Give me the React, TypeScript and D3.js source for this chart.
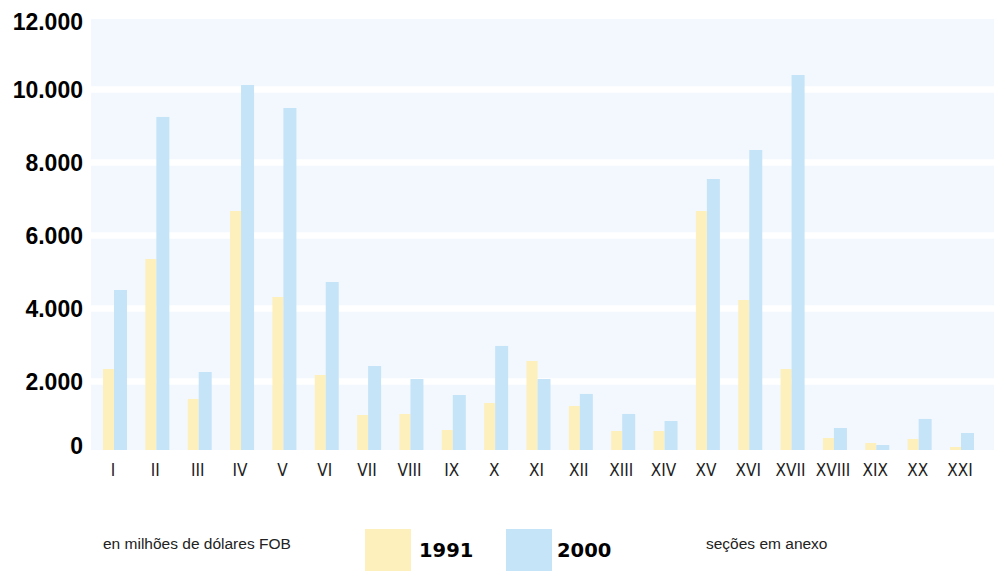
import React from "react";
import * as d3 from "d3";

const categories = ["I","II","III","IV","V","VI","VII","VIII","IX","X","XI","XII","XIII","XIV","XV","XVI","XVII","XVIII","XIX","XX","XXI"];
const values1991 = [2342,5356,1521,6671,4315,2178,1082,1110,671,1411,2562,1329,644,644,6671,4233,2342,452,315,425,205];
const values2000 = [4507,9247,2260,10123,9493,4726,2425,2068,1630,2973,2068,1658,1110,918,7548,8342,10397,726,260,973,589];
const yTicks = [0,2000,4000,6000,8000,10000,12000];
const seriesNames = ["1991","2000"];
const unitNote = "en milhões de dólares FOB";
const sectionNote = "seções em anexo";

const W = 994, H = 571;
const PANEL_LEFT = 91, PANEL_TOP = 19, PANEL_BOTTOM = 450;
const YELLOW = "#fdf0bc", BLUE = "#c6e4f8", PANEL = "#f2f8fd";
const fmt = (v: number) => d3.format(",")(v).replace(/,/g, ".");

export default function App() {
  const y = d3.scaleLinear().domain([0, 12000]).range([454.5, 16.5]);
  const x = d3.scalePoint<string>().domain(categories).range([115, 962]);

  // panel segments between tick lines (white gaps on grid values)
  const gapHalf = 3.2;
  const segs: [number, number][] = [];
  for (let i = 0; i < yTicks.length - 1; i++) {
    const lo = yTicks[i], hi = yTicks[i + 1];
    const top = hi === 12000 ? PANEL_TOP : y(hi) + gapHalf;
    const bot = lo === 0 ? PANEL_BOTTOM : y(lo) - gapHalf;
    segs.push([top, bot]);
  }

  return (
    <div style={{ position: "absolute", left: 0, top: 0 }}>
      <svg width={W} height={H} style={{ display: "block", background: "#fff" }}>
        {segs.map(([t, b], i) => (
          <rect key={i} x={PANEL_LEFT} y={t} width={W - PANEL_LEFT} height={b - t} fill={PANEL} />
        ))}
        {categories.map((c, i) => {
          const cx = x(c)!;
          const y1 = y(values1991[i]);
          const y2 = y(values2000[i]);
          return (
            <g key={c}>
              <rect x={cx - 12} y={y1} width={11} height={PANEL_BOTTOM - y1} fill={YELLOW} />
              <rect x={cx - 1} y={y2} width={13} height={PANEL_BOTTOM - y2} fill={BLUE} />
              <text x={cx - 2} y={476} textAnchor="middle"
                style={{ fontFamily: "'Liberation Sans Narrow', 'DejaVu Sans Condensed', 'Liberation Sans', sans-serif", fontSize: 17, fill: "#222" }}>
                {c}
              </text>
            </g>
          );
        })}
        {yTicks.map((t) => {
          const cy = Math.min(446, Math.max(21.5, y(t)));
          return (
            <text key={t} x={83} y={cy + 8.3} textAnchor="end"
              style={{ fontFamily: "'Liberation Sans', Arial, sans-serif", fontWeight: 700, fontSize: 23, fill: "#000" }}>
              {fmt(t)}
            </text>
          );
        })}
        <text x={103} y={549} style={{ fontFamily: "'Liberation Sans', Arial, sans-serif", fontSize: 15.5, fill: "#222" }}>{unitNote}</text>
        <rect x={365} y={529} width={46} height={42} fill={YELLOW} />
        <text x={419} y={557} style={{ fontFamily: "'DejaVu Sans', sans-serif", fontWeight: 700, fontSize: 19.5, fill: "#000" }}>{seriesNames[0]}</text>
        <rect x={506} y={529} width={46} height={42} fill={BLUE} />
        <text x={557} y={557} style={{ fontFamily: "'DejaVu Sans', sans-serif", fontWeight: 700, fontSize: 19.5, fill: "#000" }}>{seriesNames[1]}</text>
        <text x={706} y={549} style={{ fontFamily: "'Liberation Sans', Arial, sans-serif", fontSize: 15.5, fill: "#222" }}>{sectionNote}</text>
      </svg>
    </div>
  );
}
